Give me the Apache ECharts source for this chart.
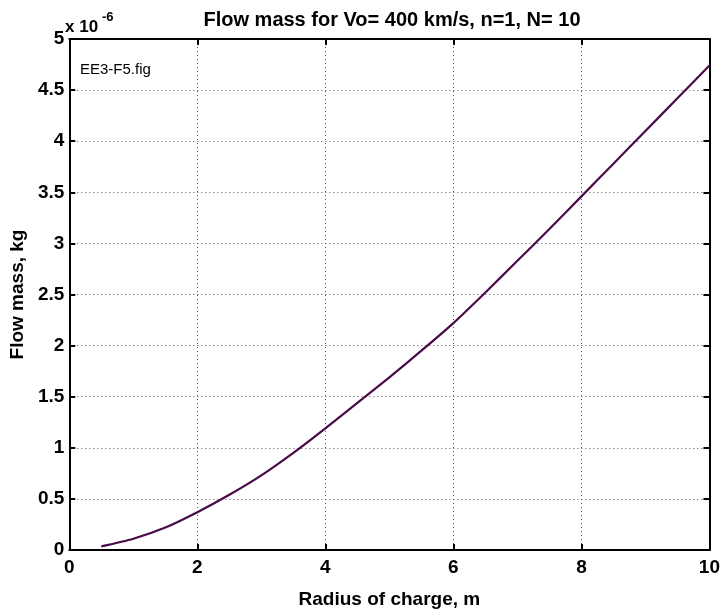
<!DOCTYPE html>
<html>
<head>
<meta charset="utf-8">
<script src="https://cdn.jsdelivr.net/npm/echarts@6/dist/echarts.min.js"></script>
<style>html,body{margin:0;padding:0;background:#fff}#c{width:723px;height:614px}</style>
</head>
<body>
<div id="c"></div>
<script>
// Radius of charge (m)
var radius = [0.5, 1, 1.5, 2, 2.5, 3, 3.5, 4, 4.5, 5, 5.5, 6, 6.5, 7, 7.5, 8, 8.5, 9, 9.5, 10];
// Flow mass (units of 1e-6 kg)
var flowMass = [0.035, 0.11, 0.22, 0.37, 0.54, 0.73, 0.95, 1.19, 1.44, 1.69, 1.95, 2.22, 2.52, 2.83, 3.14, 3.46, 3.78, 4.10, 4.42, 4.74];
var xTicks = [0, 2, 4, 6, 8, 10];
var yTicks = [0, 0.5, 1, 1.5, 2, 2.5, 3, 3.5, 4, 4.5, 5];

var titleText = 'Flow mass for Vo= 400 km/s, n=1, N= 10';
var xLabel = 'Radius of charge, m';
var yLabel = 'Flow mass, kg';
var note = 'EE3-F5.fig';

var FONT = 'Liberation Sans, Arial, sans-serif';
var pts = radius.map(function (r, i) { return [r, flowMass[i]]; });

var chart = echarts.init(document.getElementById('c'), null, {renderer: 'canvas'});
var gridLine = {show: true, lineStyle: {color: '#555', type: [1, 3], width: 1}};
var axisLine = {show: true, onZero: false, lineStyle: {color: '#000', width: 2}};
var tick = {show: true, inside: true, length: 6, lineStyle: {color: '#000', width: 2}};
var lbl = {color: '#000', fontFamily: FONT, fontWeight: 'bold', fontSize: 19};

chart.setOption({
  animation: false,
  backgroundColor: '#fff',
  title: {
    text: titleText, left: 387, top: 5, textAlign: 'center',
    textStyle: {fontFamily: FONT, fontWeight: 'bold', fontSize: 20, color: '#000'}
  },
  grid: {left: 63, right: 10, top: 39, bottom: 64, containLabel: false},
  xAxis: [{
    type: 'value', min: 0, max: 10, interval: 2, position: 'bottom',
    axisLine: axisLine, axisTick: tick, splitLine: gridLine,
    axisLabel: Object.assign({margin: 8}, lbl),
    name: xLabel, nameLocation: 'middle', nameGap: 40,
    nameTextStyle: {fontFamily: FONT, fontWeight: 'bold', fontSize: 19, color: '#000'}
  }, {
    type: 'value', min: 0, max: 10, interval: 2, position: 'top',
    axisLine: axisLine, axisTick: tick, splitLine: {show: false}, axisLabel: {show: false}
  }],
  yAxis: [{
    type: 'value', min: 0, max: 5, interval: 0.5, position: 'left',
    axisLine: axisLine, axisTick: tick, splitLine: gridLine,
    axisLabel: Object.assign({margin: 5}, lbl),
    name: yLabel, nameLocation: 'middle', nameGap: 41, nameRotate: 90,
    nameTextStyle: {fontFamily: FONT, fontWeight: 'bold', fontSize: 19, color: '#000'}
  }, {
    type: 'value', min: 0, max: 5, interval: 0.5, position: 'right',
    axisLine: axisLine, axisTick: tick, splitLine: {show: false}, axisLabel: {show: false}
  }],
  graphic: [{
    type: 'text', left: 65, top: 19,
    style: {text: 'x 10', font: 'bold 17px ' + FONT, fill: '#000'}
  }, {
    type: 'text', left: 102, top: 11,
    style: {text: '-6', font: 'bold 13px ' + FONT, fill: '#000'}
  }, {
    type: 'text', left: 80, top: 62,
    style: {text: note, font: '15px ' + FONT, fill: '#000'}
  }],
  series: [{
    type: 'line', data: pts, showSymbol: false, smooth: 0.25,
    lineStyle: {color: '#4a0a4a', width: 2.2}, clip: true
  }]
});
</script>
</body>
</html>
